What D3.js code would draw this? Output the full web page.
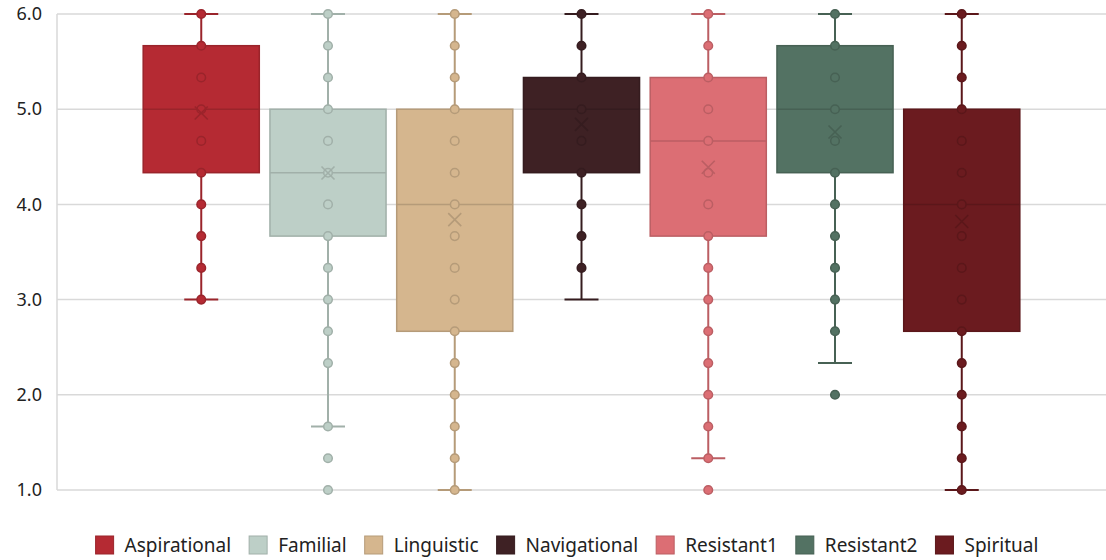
<!DOCTYPE html>
<html>
<head>
<meta charset="utf-8">
<script src="https://cdn.jsdelivr.net/npm/d3@7"></script>
<style>
  body { margin: 0; background: #fff; }
  text { font-family: "Noto Sans", "Open Sans", sans-serif; fill: #222; }
</style>
</head>
<body>
<div id="chart"></div>
<script>
// categories and colours
var categories = ["Aspirational", "Familial", "Linguistic", "Navigational", "Resistant1", "Resistant2", "Spiritual"];
var colors = ["#b52a33", "#bdcfc7", "#d5b68e", "#3e2124", "#dc6e74", "#537263", "#6b1b1f"];

// box stats
var q1 = [4.333, 3.667, 2.667, 4.333, 3.667, 4.333, 2.667];
var medians = [5.0, 4.333, 4.0, 5.0, 4.667, 5.0, 4.0];
var q3 = [5.667, 5.0, 5.0, 5.333, 5.333, 5.667, 5.0];
var means = [4.96, 4.33, 3.84, 4.84, 4.39, 4.76, 3.82];
var whiskerLow = [3.0, 1.667, 1.0, 3.0, 1.333, 2.333, 1.0];
var whiskerHigh = [6.0, 6.0, 6.0, 6.0, 6.0, 6.0, 6.0];

// distinct points shown per box (in thirds)
var points = [
    [6, 5.667, 5.333, 5, 4.667, 4.333, 4, 3.667, 3.333, 3],
    [6, 5.667, 5.333, 5, 4.667, 4.333, 4, 3.667, 3.333, 3, 2.667, 2.333, 1.667, 1.333, 1],
    [6, 5.667, 5.333, 5, 4.667, 4.333, 4, 3.667, 3.333, 3, 2.667, 2.333, 2, 1.667, 1.333, 1],
    [6, 5.667, 5.333, 5, 4.667, 4.333, 4, 3.667, 3.333],
    [6, 5.667, 5.333, 5, 4.667, 4.333, 4, 3.667, 3.333, 3, 2.667, 2.333, 2, 1.667, 1.333, 1],
    [6, 5.667, 5.333, 5, 4.667, 4.333, 4, 3.667, 3.333, 3, 2.667, 2],
    [6, 5.667, 5.333, 5, 4.667, 4.333, 4, 3.667, 3.333, 3, 2.667, 2.333, 2, 1.667, 1.333, 1]
];

var yTicks = [1, 2, 3, 4, 5, 6];

var width = 1106, height = 560;
var svg = d3.select("#chart").append("svg").attr("width", width).attr("height", height);

var plotLeft = 57, plotRight = 1106, plotTop = 14, plotBottom = 490;

var y = d3.scaleLinear().domain([1, 6]).range([plotBottom, plotTop]);
var x = d3.scaleBand().domain(categories).range([plotLeft, plotRight])
    .paddingInner(0.084).paddingOuter(0.68);

// gridlines
svg.append("g").selectAll("line").data(yTicks).enter().append("line")
    .attr("x1", plotLeft).attr("x2", plotRight)
    .attr("y1", d => y(d)).attr("y2", d => y(d))
    .attr("stroke", "#d9d9d9").attr("stroke-width", 1.5);
svg.append("line")
    .attr("x1", plotLeft).attr("x2", plotLeft).attr("y1", plotTop).attr("y2", plotBottom)
    .attr("stroke", "#d9d9d9").attr("stroke-width", 1.5);

// y axis labels
var yAxis = d3.axisLeft(y).tickValues(yTicks).tickFormat(d3.format(".1f")).tickSize(0).tickPadding(0);
var ya = svg.append("g").attr("transform", "translate(42,0)").call(yAxis);
ya.select(".domain").remove();
ya.selectAll("text").style("font-size", "18px").attr("fill", "#222")
    .style("font-family", "'Noto Sans', sans-serif");

// boxes
categories.forEach(function(cat, i) {
    var c = colors[i];
    var dark = d3.color(c).darker(0.45).formatHex();
    var cx = x(cat) + x.bandwidth() / 2;
    var g = svg.append("g");
    var capW = 17;

    // whiskers
    g.append("line").attr("x1", cx).attr("x2", cx)
        .attr("y1", y(q3[i])).attr("y2", y(whiskerHigh[i]))
        .attr("stroke", dark).attr("stroke-width", 2);
    g.append("line").attr("x1", cx).attr("x2", cx)
        .attr("y1", y(q1[i])).attr("y2", y(whiskerLow[i]))
        .attr("stroke", dark).attr("stroke-width", 2);
    [whiskerLow[i], whiskerHigh[i]].forEach(function(v) {
        g.append("line").attr("x1", cx - capW).attr("x2", cx + capW)
            .attr("y1", y(v)).attr("y2", y(v))
            .attr("stroke", dark).attr("stroke-width", 2);
    });

    // box
    g.append("rect")
        .attr("x", x(cat)).attr("width", x.bandwidth())
        .attr("y", y(q3[i])).attr("height", y(q1[i]) - y(q3[i]))
        .attr("fill", c).attr("stroke", dark).attr("stroke-width", 1.5);

    // median
    g.append("line").attr("x1", x(cat)).attr("x2", x(cat) + x.bandwidth())
        .attr("y1", y(medians[i])).attr("y2", y(medians[i]))
        .attr("stroke", dark).attr("stroke-width", 1.5);

    // points
    g.selectAll("circle").data(points[i]).enter().append("circle")
        .attr("cx", cx).attr("cy", d => y(d)).attr("r", 4.3)
        .attr("fill", c).attr("stroke", dark).attr("stroke-width", 1.5);

    // mean marker
    var m = 6.5, my = y(means[i]);
    g.append("path")
        .attr("d", "M" + (cx - m) + "," + (my - m) + "L" + (cx + m) + "," + (my + m) +
                   "M" + (cx - m) + "," + (my + m) + "L" + (cx + m) + "," + (my - m))
        .attr("stroke", dark).attr("stroke-width", 1.6).attr("fill", "none");
});

// legend, laid out left to right and centred
var legend = svg.append("g");
var sw = 18, gapText = 11, gapItem = 18, lx = 0;
var items = legend.selectAll("g").data(categories).enter().append("g");
items.append("rect").attr("width", sw).attr("height", sw)
    .attr("fill", (d, i) => colors[i])
    .attr("stroke", (d, i) => d3.color(colors[i]).darker(0.45).formatHex()).attr("stroke-width", 1);
items.append("text").attr("x", sw + gapText).attr("y", sw / 2).attr("dy", "0.36em")
    .style("font-size", "19px").text(d => d);
items.each(function() {
    var w = this.querySelector("text").getComputedTextLength();
    d3.select(this).attr("transform", "translate(" + lx + ",0)");
    lx += sw + gapText + w + gapItem;
});
lx -= gapItem;
legend.attr("transform", "translate(" + (567 - lx / 2) + ",536)");
</script>
</body>
</html>
